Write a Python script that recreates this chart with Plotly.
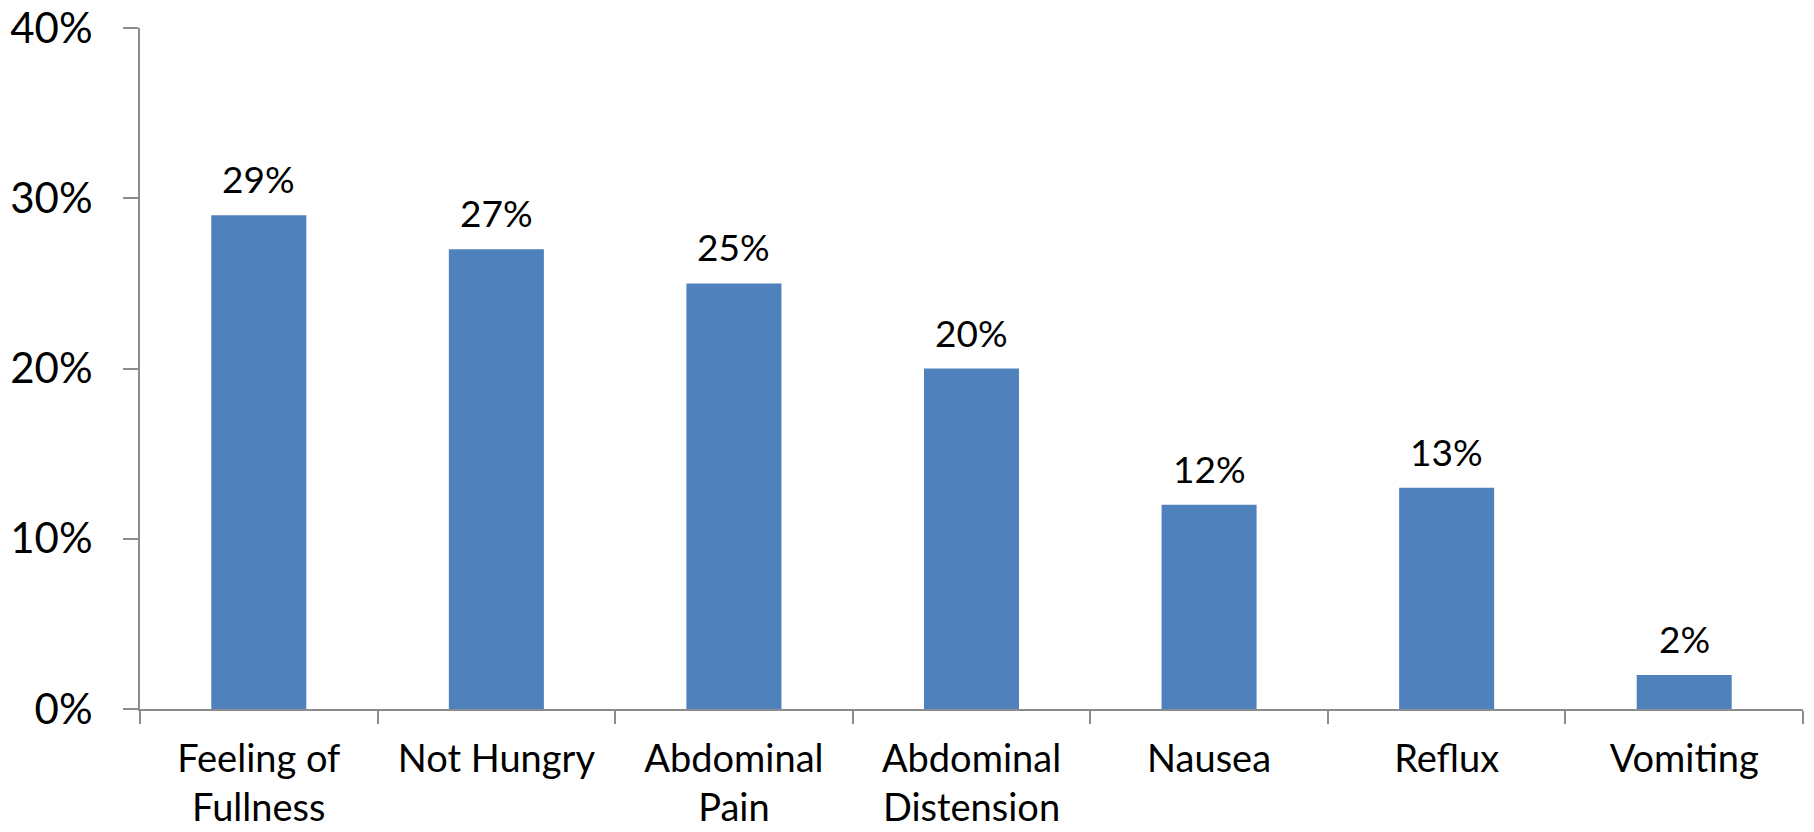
import plotly.graph_objects as go

# Symptom frequencies
categories = ["Feeling of<br>Fullness", "Not Hungry", "Abdominal<br>Pain",
              "Abdominal<br>Distension", "Nausea", "Reflux", "Vomiting"]
values = [0.29, 0.27, 0.25, 0.20, 0.12, 0.13, 0.02]
tick_vals = [0, 0.1, 0.2, 0.3, 0.4]
tick_text = ["0%", "10%", "20%", "30%", "40%"]

BAR_COLOR = "#4F81BD"
AXIS_COLOR = "#8C8C8C"
FONT = "Lato"

fig = go.Figure(
    go.Bar(
        x=categories,
        y=values,
        marker=dict(color=BAR_COLOR, line=dict(width=0)),
        hoverinfo="skip",
    )
)

# Value labels above each bar
for cat, v in zip(categories, values):
    fig.add_annotation(
        x=cat, y=v, text=f"{round(v * 100)}%",
        showarrow=False, yanchor="bottom", yshift=12,
        font=dict(family=FONT, size=37, color="black"),
    )

fig.update_layout(
    width=1814, height=832,
    margin=dict(l=140, r=11, t=28, b=123),
    paper_bgcolor="white", plot_bgcolor="white",
    bargap=0.6,
    showlegend=False,
    font=dict(family=FONT, color="black"),
)

fig.update_xaxes(
    type="category", automargin=False,
    showline=True, linecolor=AXIS_COLOR, linewidth=2,
    ticks="outside", tickson="boundaries", ticklen=13, tickwidth=2, tickcolor=AXIS_COLOR,
    ticklabelstandoff=15,
    tickfont=dict(family=FONT, size=38, color="black"),
    showgrid=False, zeroline=False,
)
fig.update_yaxes(
    range=[0, 0.4], automargin=False,
    tickvals=tick_vals, ticktext=tick_text,
    showline=True, linecolor=AXIS_COLOR, linewidth=2,
    ticks="outside", ticklen=15, tickwidth=2, tickcolor=AXIS_COLOR,
    ticklabelstandoff=22,
    tickfont=dict(family=FONT, size=42, color="black"),
    showgrid=False, zeroline=False,
)

fig.write_html("out.html")
